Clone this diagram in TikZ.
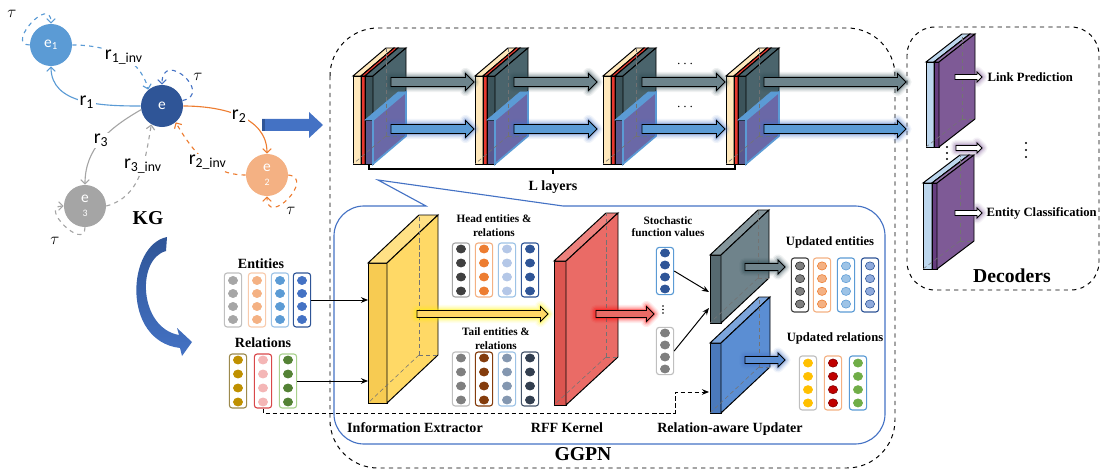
\documentclass[tikz,border=0pt]{standalone}
\usepackage{fontspec}
\setmainfont{Liberation Serif}
\newfontfamily\kgfont{Carlito}
\usetikzlibrary{arrows.meta,positioning,calc}

% knowledge graph colours
\definecolor{kglight}{HTML}{5B9BD5}
\definecolor{kgdark}{HTML}{2F5597}
\definecolor{kgmid}{HTML}{4472C4}
\definecolor{kgorange}{HTML}{F4B183}
\definecolor{kgorangedk}{HTML}{ED7D31}
\definecolor{kggray}{HTML}{A5A5A5}
% block colours
\definecolor{lyrbeige}{HTML}{FFE8BC}
\definecolor{lyrred}{HTML}{E8392F}
\definecolor{lyrslate}{HTML}{4A646C}
\definecolor{lyrslatedk}{HTML}{3C545B}
\definecolor{lyrpurple}{HTML}{6A68A7}
\definecolor{lyrblue}{HTML}{5B9BD5}
\definecolor{lyrarrow}{HTML}{6D848C}
\definecolor{lyrglow}{HTML}{2E4A52}
\definecolor{extyellow}{HTML}{FFD966}
\definecolor{extyellowdk}{HTML}{F7CB52}
\definecolor{rffred}{HTML}{EA6B66}
\definecolor{rffreddk}{HTML}{DC5550}
\definecolor{updslate}{HTML}{6F838B}
\definecolor{updslatedk}{HTML}{566970}
\definecolor{updblue}{HTML}{5B8ED3}
\definecolor{updbluedk}{HTML}{4A79BC}
\definecolor{declight}{HTML}{BDD7EE}
\definecolor{decpurple}{HTML}{7E5A96}
\definecolor{decpurpledk}{HTML}{663D7F}
\definecolor{ggpnblue}{HTML}{4472C4}
% vector colours
\definecolor{vgrayb}{HTML}{BFBFBF}
\definecolor{vgray}{HTML}{A6A6A6}
\definecolor{vorangeb}{HTML}{F8CBAD}
\definecolor{vblueb}{HTML}{9DC3E6}
\definecolor{volive}{HTML}{9C8A4D}
\definecolor{vgold}{HTML}{BF9000}
\definecolor{vredb}{HTML}{D9484A}
\definecolor{vpink}{HTML}{F4B6B6}
\definecolor{vgreenb}{HTML}{A9D18E}
\definecolor{vgreen}{HTML}{548235}
\definecolor{vdark}{HTML}{404040}
\definecolor{vbluepale}{HTML}{B4C7E7}
\definecolor{vgrey}{HTML}{7F7F7F}
\definecolor{vbrown}{HTML}{843C0C}
\definecolor{vsteel}{HTML}{8497B0}
\definecolor{vnavy}{HTML}{333F50}
\definecolor{vnavyb}{HTML}{44546A}
\definecolor{vpalemid}{HTML}{8FAADC}
\definecolor{vamber}{HTML}{FFC000}
\definecolor{vcrimson}{HTML}{C00000}
\definecolor{vcrimsondk}{HTML}{7F0000}
\definecolor{vleaf}{HTML}{70AD47}
\definecolor{vblack}{HTML}{262626}

% x, y, width, height, depth x, depth y, front, top, side
\newcommand{\cuboid}[9]{%
  \filldraw[#7] (#1,#2) rectangle ++(#3,#4);
  \filldraw[#8] (#1,#2) -- ++(#5,#6) -- ++(#3,0) -- ++({-(#5)},{-(#6)}) -- cycle;
  \filldraw[#9] ({#1+#3},#2) -- ++(#5,#6) -- ++(0,#4) -- ++({-(#5)},{-(#6)}) -- cycle;
}
\newcommand{\backedges}[6]{%
  \draw[hid] ({#1+#5},{#2+#4+(#6)}) -- (#1,{#2+#4});
  \draw[hid] ({#1+#5},{#2+#4+(#6)}) -- ({#1+#5},{#2+(#6)});
  \draw[hid] ({#1+#5},{#2+#4+(#6)}) -- ({#1+#5+#3},{#2+#4+(#6)});
}
% x from, x to, y, half shaft, half head, fill, glow
\newcommand{\fatarrow}[7]{%
  \foreach \gw/\go in {8pt/0.08, 6pt/0.12, 4pt/0.18, 2pt/0.3}{
    \draw[#7, line width=\gw, opacity=\go, line join=round]
      (#1,{#3-#4}) -- ({#2-#5},{#3-#4}) -- ({#2-#5},{#3-#5}) -- (#2,#3)
      -- ({#2-#5},{#3+#5}) -- ({#2-#5},{#3+#4}) -- (#1,{#3+#4}) -- cycle;
  }
  \filldraw[fill=#6, draw=black, line width=0.6pt]
    (#1,{#3-#4}) -- ({#2-#5},{#3-#4}) -- ({#2-#5},{#3-#5}) -- (#2,#3)
    -- ({#2-#5},{#3+#5}) -- ({#2-#5},{#3+#4}) -- (#1,{#3+#4}) -- cycle;
}
% [options] name, x, y, box colour, dot fill, dot draw, dot spacing
\newcommand{\embvec}[8][]{%
  \node[embbox, draw=#5, #1] (#2) at (#3,#4) {};
  \foreach \k in {-1.5,-0.5,0.5,1.5}
    \filldraw[fill=#6, draw=#7, line width=0.4pt] (#3,{#4+\k*#8}) ellipse[x radius=4.6, y radius=4.1];
}

\begin{document}
\begin{tikzpicture}[x=0.025cm, y=-0.025cm,
    kgnode/.style={circle, minimum size=1.05cm, inner sep=0pt, text=white, align=center,
      font=\kgfont\fontsize{11}{9}\selectfont},
    kgedge/.style={line width=0.8pt, -{Straight Barb[length=3pt,width=6pt]}},
    kglbl/.style={fill=white, text=black, inner sep=1pt, font=\kgfont\fontsize{14}{14}\selectfont},
    taulbl/.style={fill=white, inner sep=0.5pt, font=\fontsize{12}{12}\selectfont},
    lbl/.style={font=\bfseries\fontsize{10}{11}\selectfont, align=center, inner sep=1pt},
    slbl/.style={font=\bfseries\fontsize{8}{10}\selectfont, align=center, inner sep=1pt},
    mlbl/.style={font=\bfseries\fontsize{9}{10}\selectfont, align=center, inner sep=1pt},
    biglbl/.style={font=\bfseries\fontsize{14}{16}\selectfont, inner sep=1pt},
    embbox/.style={rectangle, rounded corners=2pt, minimum width=0.43cm, minimum height=1.35cm,
      inner sep=0pt, line width=0.8pt, fill=white},
    face/.style={draw=black, line width=0.7pt},
    hid/.style={densely dashed, draw=black!55, line width=0.4pt},
    conn/.style={line width=0.7pt, -{Stealth[length=5pt,width=4pt]}},
    dashbox/.style={dashed, line width=0.7pt, rounded corners=1.2cm}
  ]
  \useasboundingbox (0,0) rectangle (1101,473);

  % knowledge graph
  \node[kgnode, fill=kglight]  (e1) at (51,45)   {e\textsubscript{1}};
  \node[kgnode, fill=kgdark]   (e)  at (162,106) {e};
  \node[kgnode, fill=kgorange] (e2) at (267,175) {e\\[1pt]{\fontsize{7}{7}\selectfont 2}};
  \node[kgnode, fill=kggray]   (e3) at (85,206)  {e\\[1pt]{\fontsize{7}{7}\selectfont 3}};

  \draw[kgedge, kglight] (e.west) to[out=180, in=-90]
    node[kglbl, pos=0.45] {r\textsubscript{1}} (e1.south);
  \draw[kgedge, kglight, dashed] (e1.east) to[out=0, in=105]
    node[kglbl, pos=0.55] {r\textsubscript{1\_inv}} (e.130);
  \draw[kgedge, kgorangedk] (e.east) to[out=0, in=90]
    node[kglbl, pos=0.5] {r\textsubscript{2}} (e2.north);
  \draw[kgedge, kgorangedk, dashed] (e2.west) to[out=180, in=-60]
    node[kglbl, pos=0.45] {r\textsubscript{2\_inv}} (e.-50);
  \draw[kgedge, kggray] (e.190) to[out=210, in=90]
    node[kglbl, pos=0.5] {r\textsubscript{3}} (e3.north);
  \draw[kgedge, kggray, dashed] (e3.east) to[out=15, in=-100]
    node[kglbl, pos=0.6] {r\textsubscript{3\_inv}} (e.-120);
  % self loops
  \draw[kgedge, kglight, dashed] (e1.west) .. controls (5,45) and (51,-6) .. (e1.north);
  \draw[kgedge, kgmid, dashed] (e.15) .. controls (214,94) and (162,48) .. (e.north);
  \draw[kgedge, kgorangedk, dashed] (e2.east) .. controls (316,178) and (267,228) .. (e2.south);
  \draw[kgedge, kggray, dashed] (e3.south) .. controls (85,252) and (38,206) .. (e3.west);
  \node[taulbl] (tau1) at (12,14)   {$\tau$};
  \node[taulbl] (tau0) at (198,77)  {$\tau$};
  \node[taulbl] (tau2) at (291,211) {$\tau$};
  \node[taulbl] (tau3) at (55,241)  {$\tau$};
  \node[biglbl] (kg) at (148,218) {KG};

  % block arrows out of the graph
  \fill[kgmid] (262,119) -- (309,119) -- (309,112) -- (323,125) -- (309,138) -- (309,131) -- (262,131) -- cycle;
  \fill[kgdark] (262,119) rectangle (265,131);
  \shade[top color=kgdark, bottom color=kgmid]
    (167,237) .. controls (127,245) and (121,341) .. (180,348) -- (182,356) -- (192,342)
    -- (177,328) -- (179,335) .. controls (139,328) and (136,259) .. (166,251) -- cycle;

  % frames
  \draw[dashbox] (330,28) rectangle (895,468);
  \draw[dashbox, rounded corners=0.7cm] (907,27) rectangle (1099,290);
  \draw[ggpnblue, line width=0.8pt] (426,206) -- (378,180) -- (563,206) -- (855,206)
    arc[start angle=90, end angle=0, radius=0.75cm] -- (885,414)
    arc[start angle=0, end angle=-90, radius=0.75cm] -- (364,444)
    arc[start angle=-90, end angle=-180, radius=0.75cm] -- (334,236)
    arc[start angle=180, end angle=90, radius=0.75cm] -- cycle;

  % L layers
  \foreach \lx in {353,475,603,726}{
    \cuboid{\lx}{76}{8}{88}{33}{-28}{face, fill=lyrbeige}{face, fill=lyrbeige}{face, fill=lyrbeige}
    \cuboid{\lx+8}{76}{4}{88}{33}{-28}{face, fill=lyrred}{face, fill=lyrred}{face, fill=lyrred}
    \cuboid{\lx+12}{76}{8}{44}{33}{-28}{face, fill=lyrslatedk}{face, fill=lyrslate}{face, fill=lyrslate}
    \cuboid{\lx+12}{120}{8}{44}{33}{-28}{face, fill=lyrpurple!85!black}{draw=lyrblue, fill=lyrblue}{draw=lyrblue, line width=1.2pt, fill=lyrpurple}
    \backedges{\lx}{76}{20}{88}{33}{-28}
  }
  \foreach \ax/\bx in {391/474, 514/597, 642/725, 764/906}{
    \fatarrow{\ax}{\bx}{82}{4.5}{8.5}{lyrarrow}{lyrglow}
    \fatarrow{\ax}{\bx}{129}{4.5}{8.5}{kglight}{kgmid}
  }
  \node[lbl] (dotsup) at (685,64) {$\cdots$};
  \node[lbl] (dotsdn) at (685,107) {$\cdots$};
  \draw[line width=0.9pt] (369,164) -- (369,169) -- (735,169) -- (735,164);
  \draw[line width=0.9pt] (553,169) -- (553,174);
  \node[lbl] (llayers) at (553,187) {L layers};

  % GGPN inner blocks
  \cuboid{368}{263}{19}{140}{51}{-48}{face, fill=extyellowdk}{face, fill=extyellow!80!white}{face, fill=extyellow}
  \backedges{368}{263}{19}{140}{51}{-48}
  \cuboid{554}{261}{12}{144}{52}{-48}{face, fill=rffreddk}{face, fill=rffred!85!white}{face, fill=rffred}
  \backedges{554}{261}{12}{144}{52}{-48}
  \cuboid{710}{255}{11}{68}{48}{-45}{face, fill=updslatedk}{face, fill=updslate!85!white}{face, fill=updslate}
  \backedges{710}{255}{11}{68}{48}{-45}
  \cuboid{710}{343}{11}{70}{49}{-46}{face, fill=updbluedk}{face, fill=updblue!80!white}{face, fill=updblue}
  \backedges{710}{343}{11}{70}{49}{-46}
  \fatarrow{417}{548}{314}{3.5}{7.5}{extyellow}{yellow}
  \fatarrow{596}{654}{314}{3.5}{7.5}{rffred}{red}
  \fatarrow{745}{785}{267}{3.5}{7}{updslate}{lyrglow}
  \fatarrow{745}{785}{360}{3.5}{7}{updblue}{kgmid}

  % decoders
  \cuboid{926}{62}{8}{85}{36}{-28}{face, fill=declight}{face, fill=declight}{face, fill=declight}
  \cuboid{934}{62}{5}{85}{36}{-28}{face, fill=decpurpledk}{face, fill=decpurple!85!white}{face, fill=decpurple}
  \backedges{926}{62}{13}{85}{36}{-28}
  \cuboid{923}{183}{9}{86}{37}{-28}{face, fill=declight}{face, fill=declight}{face, fill=declight}
  \cuboid{932}{183}{5}{86}{37}{-28}{face, fill=decpurpledk}{face, fill=decpurple!85!white}{face, fill=decpurple}
  \backedges{923}{183}{14}{86}{37}{-28}
  \fatarrow{955}{982}{77}{2.5}{5}{white}{decpurple}
  \fatarrow{956}{982}{148}{2.5}{5}{white}{decpurple}
  \fatarrow{955}{982}{213}{2.5}{5}{white}{decpurple}
  \foreach \dy in {147,153,159} \fill (947,\dy) circle (1.2);
  \foreach \dy in {143,150,157} \fill (1026,\dy) circle (1.2);
  \node[mlbl, anchor=west] (linklbl) at (986,77) {Link Prediction};
  \node[mlbl, anchor=west] (clslbl) at (985,213) {Entity Classification};
  \node[biglbl] (declbl) at (1012,276) {Decoders};

  % input vectors
  \node[lbl] (entlbl) at (261,264) {Entities};
  \embvec{ent1}{233}{300}{vgrayb}{vgray}{vgray}{13}
  \embvec{ent2}{257}{300}{vorangeb}{kgorange}{kgorange}{13}
  \embvec{ent3}{280}{300}{vblueb}{kglight}{kglight}{13}
  \embvec{ent4}{302}{300}{kgdark}{kgmid}{kgmid}{13}
  \node[lbl] (rellbl) at (263,343) {Relations};
  \embvec{rel1}{238}{381}{volive}{vgold}{vgold}{14}
  \embvec{rel2}{263}{381}{vredb}{vpink}{vpink}{14}
  \embvec{rel3}{288}{381}{vgreenb}{vgreen}{vgreen}{14}

  % head and tail vectors
  \node[slbl] (headlbl) at (494,226) {Head entities \&\\relations};
  \embvec{head1}{461}{270}{vgray}{vdark}{vdark}{14}
  \embvec{head2}{484}{270}{kgorange}{kgorangedk}{kgorangedk}{14}
  \embvec{head3}{507}{270}{vblueb}{vbluepale}{vbluepale}{14}
  \embvec{head4}{530}{270}{kgdark}{kgdark}{kgdark}{14}
  \node[slbl] (taillbl) at (496,339) {Tail entities \&\\relations};
  \embvec{tail1}{461}{379}{vgrayb}{vgrey}{vgrey}{14}
  \embvec{tail2}{484}{379}{vbrown}{vbrown}{vbrown}{14}
  \embvec{tail3}{507}{379}{vblueb}{vsteel}{vsteel}{14}
  \embvec{tail4}{530}{379}{vnavyb}{vnavy}{vnavy}{14}

  % stochastic function values
  \node[slbl, font=\bfseries\fontsize{8}{8.6}\selectfont] (stolbl) at (668,227) {Stochastic\\function values};
  \embvec[minimum height=1.18cm]{sto1}{665}{271}{kglight}{kgdark}{kgdark}{12}
  \embvec[minimum height=1.18cm]{sto2}{665}{351}{vgrayb}{vgrey}{vgrey}{12}
  \foreach \dy in {306,309.5,313} \fill (663,\dy) circle (0.8);

  % updated vectors
  \node[mlbl] (uentlbl) at (830,242) {Updated entities};
  \embvec{upe1}{800}{285}{vdark}{vgrey}{vblack}{12.7}
  \embvec{upe2}{822}{285}{kgorange}{kgorange}{kgorangedk}{12.7}
  \embvec{upe3}{846}{285}{kglight}{vblueb}{kglight}{12.7}
  \embvec{upe4}{870}{285}{kgdark}{vpalemid}{kgdark}{12.7}
  \node[mlbl] (urellbl) at (835,338) {Updated relations};
  \embvec{upr1}{808}{383}{vgrayb}{vamber}{vamber}{13.3}
  \embvec{upr2}{833}{383}{kgorange}{vcrimson}{vcrimsondk}{13.3}
  \embvec{upr3}{858}{383}{kglight}{vleaf}{vleaf}{13.3}

  % connectors
  \coordinate (extin) at (368,263);
  \draw[conn] (ent4.east) -- (ent4.east -| extin);
  \draw[conn] (rel3.east) -- (rel3.east -| extin);
  \coordinate (updA) at (709,292);
  \coordinate (updB) at (709,308);
  \draw[conn] (sto1.east) -- (updA);
  \draw[conn] (sto2.east) -- (updB);
  \coordinate (dashturn) at (675,413);
  \coordinate (updC) at (709,392);
  \draw[conn, densely dashed] (rel2.south) |- (dashturn) |- (updC);

  % block names
  \node[lbl] (extlbl) at (415,428) {Information Extractor};
  \node[lbl] (rfflbl) at (567,428) {RFF Kernel};
  \node[lbl] (updlbl) at (730,429) {Relation-aware Updater};
  \node[biglbl] (ggpnlbl) at (583,454) {GGPN};
\end{tikzpicture}
\end{document}
